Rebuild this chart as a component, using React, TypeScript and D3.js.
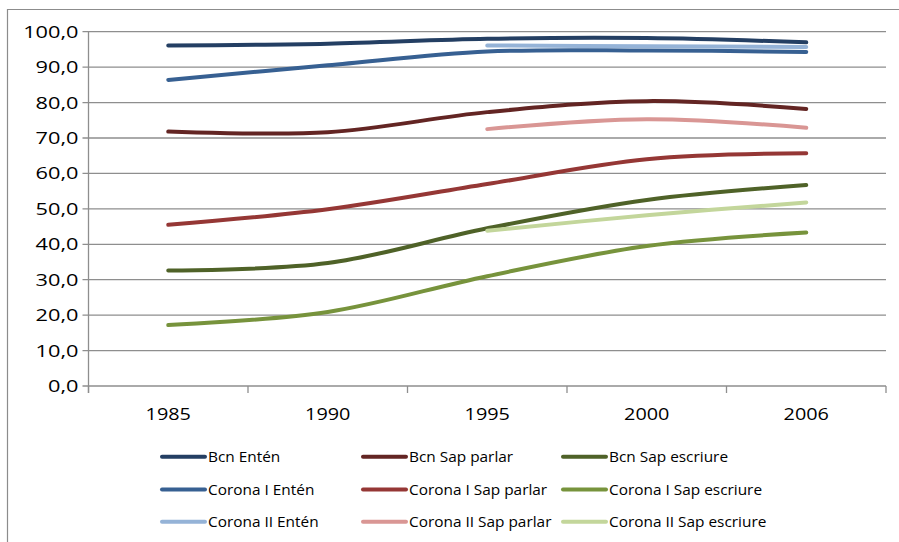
import React, { useRef, useEffect } from "react";
import * as d3 from "d3";

/* categories + series (null = no survey that year) */
const YEARS = ["1985", "1990", "1995", "2000", "2006"];
const Y_TICKS = [0, 10, 20, 30, 40, 50, 60, 70, 80, 90, 100];

const BCN_ENTEN = [96.1, 96.6, 98.0, 98.2, 97.0];
const BCN_PARLAR = [71.8, 71.6, 77.3, 80.4, 78.2];
const BCN_ESCRIURE = [32.6, 34.7, 44.5, 52.5, 56.7];
const C1_ENTEN = [86.4, 90.5, 94.4, 94.7, 94.3];
const C1_PARLAR = [45.5, 49.9, 57.0, 64.0, 65.7];
const C1_ESCRIURE = [17.2, 20.9, 31.0, 39.5, 43.3];
const C2_ENTEN = [null, null, 96.1, 95.9, 95.7];
const C2_PARLAR = [null, null, 72.5, 75.3, 72.9];
const C2_ESCRIURE = [null, null, 43.8, 48.2, 51.8];

const SERIES_NAMES = [
  "Bcn Entén", "Bcn Sap parlar", "Bcn Sap escriure",
  "Corona I Entén", "Corona I Sap parlar", "Corona I Sap escriure",
  "Corona II Entén", "Corona II Sap parlar", "Corona II Sap escriure",
];
const SERIES_VALUES = [
  BCN_ENTEN, BCN_PARLAR, BCN_ESCRIURE,
  C1_ENTEN, C1_PARLAR, C1_ESCRIURE,
  C2_ENTEN, C2_PARLAR, C2_ESCRIURE,
];
const COLORS = [
  "#243f63", "#632523", "#4f6228",
  "#376092", "#953735", "#77933c",
  "#95b3d7", "#d99694", "#c3d69b",
];

export default function App() {
  const svgRef = useRef<SVGSVGElement>(null);

  useEffect(() => {
    /* ---- layout ---- */
    const W = 899;
    const H = 542;
    const L = 88.5, R = 886, T = 31.7, B = 386;
    const FONT = "'Open Sans', sans-serif";

    const svg = d3.select(svgRef.current).attr("width", W).attr("height", H);
    svg.selectAll("*").remove();

    /* ---- outer frame (only left/top visible) ---- */
    svg.append("path")
      .attr("d", `M7.5,${H}V9.5H${W}`)
      .attr("fill", "none")
      .attr("stroke", "#8c8c8c")
      .attr("stroke-width", 1.2);

    /* ---- scales ---- */
    const x = d3.scaleBand().domain(YEARS).range([L, R]);
    const y = d3.scaleLinear().domain([0, 100]).range([B, T]);

    /* ---- gridlines ---- */
    svg.append("g")
      .selectAll("line")
      .data(Y_TICKS)
      .join("line")
      .attr("x1", L - 6)
      .attr("x2", R)
      .attr("y1", (d) => y(d))
      .attr("y2", (d) => y(d))
      .attr("stroke", "#8e8e8e")
      .attr("stroke-width", 1.3);

    /* ---- y axis line ---- */
    svg.append("line")
      .attr("x1", L).attr("x2", L)
      .attr("y1", T).attr("y2", B + 7)
      .attr("stroke", "#8e8e8e").attr("stroke-width", 1.3);

    /* ---- x tick marks at band edges ---- */
    const edges = YEARS.map((c) => x(c)!).concat([R]);
    svg.append("g")
      .selectAll("line")
      .data(edges)
      .join("line")
      .attr("x1", (d) => d).attr("x2", (d) => d)
      .attr("y1", B).attr("y2", B + 7)
      .attr("stroke", "#8e8e8e").attr("stroke-width", 1.3);

    /* ---- y labels ---- */
    const fmt = (v: number) => v.toFixed(1).replace(".", ",");
    svg.append("g")
      .selectAll("text")
      .data(Y_TICKS)
      .join("text")
      .attr("transform", (d) => `translate(78.5,${y(d) + 6}) scale(1.36,1)`)
      .attr("text-anchor", "end")
      .attr("font-family", FONT)
      .attr("font-size", 16)
      .attr("fill", "#000")
      .text(fmt);

    /* ---- x labels ---- */
    svg.append("g")
      .selectAll("text")
      .data(YEARS)
      .join("text")
      .attr("transform", (d) => `translate(${x(d)! + x.bandwidth() / 2},420) scale(1.28,1)`)
      .attr("text-anchor", "middle")
      .attr("font-family", FONT)
      .attr("font-size", 15.5)
      .attr("fill", "#000")
      .text((d) => d);

    /* ---- lines ---- */
    const line = d3
      .line<number | null>()
      .defined((d) => d != null)
      .x((_, i) => x(YEARS[i])! + x.bandwidth() / 2)
      .y((d) => y(d as number))
      .curve(d3.curveCatmullRom.alpha(0));

    svg.append("g")
      .selectAll("path")
      .data(SERIES_VALUES)
      .join("path")
      .attr("d", (d) => line(d))
      .attr("fill", "none")
      .attr("stroke", (_, i) => COLORS[i])
      .attr("stroke-width", 4)
      .attr("stroke-linecap", "round")
      .attr("stroke-linejoin", "round");

    /* ---- legend: 3 columns x 3 rows ---- */
    const colX = [162, 363, 563];
    const rowY = [456.7, 489.5, 521.7];
    const leg = svg.append("g")
      .selectAll("g")
      .data(SERIES_NAMES)
      .join("g")
      .attr("transform", (_, i) => `translate(${colX[i % 3]},${rowY[Math.floor(i / 3)]})`);
    leg.append("line")
      .attr("x1", 0).attr("x2", 43)
      .attr("stroke", (_, i) => COLORS[i])
      .attr("stroke-width", 4)
      .attr("stroke-linecap", "round");
    leg.append("text")
      .attr("transform", "translate(46,5.5) scale(1.1,1)")
      .attr("font-family", FONT)
      .attr("font-size", 14)
      .attr("fill", "#000")
      .text((d) => d);
  }, []);

  return (
    <svg
      ref={svgRef}
      style={{ position: "absolute", left: 0, top: 0, background: "#fff" }}
    />
  );
}
